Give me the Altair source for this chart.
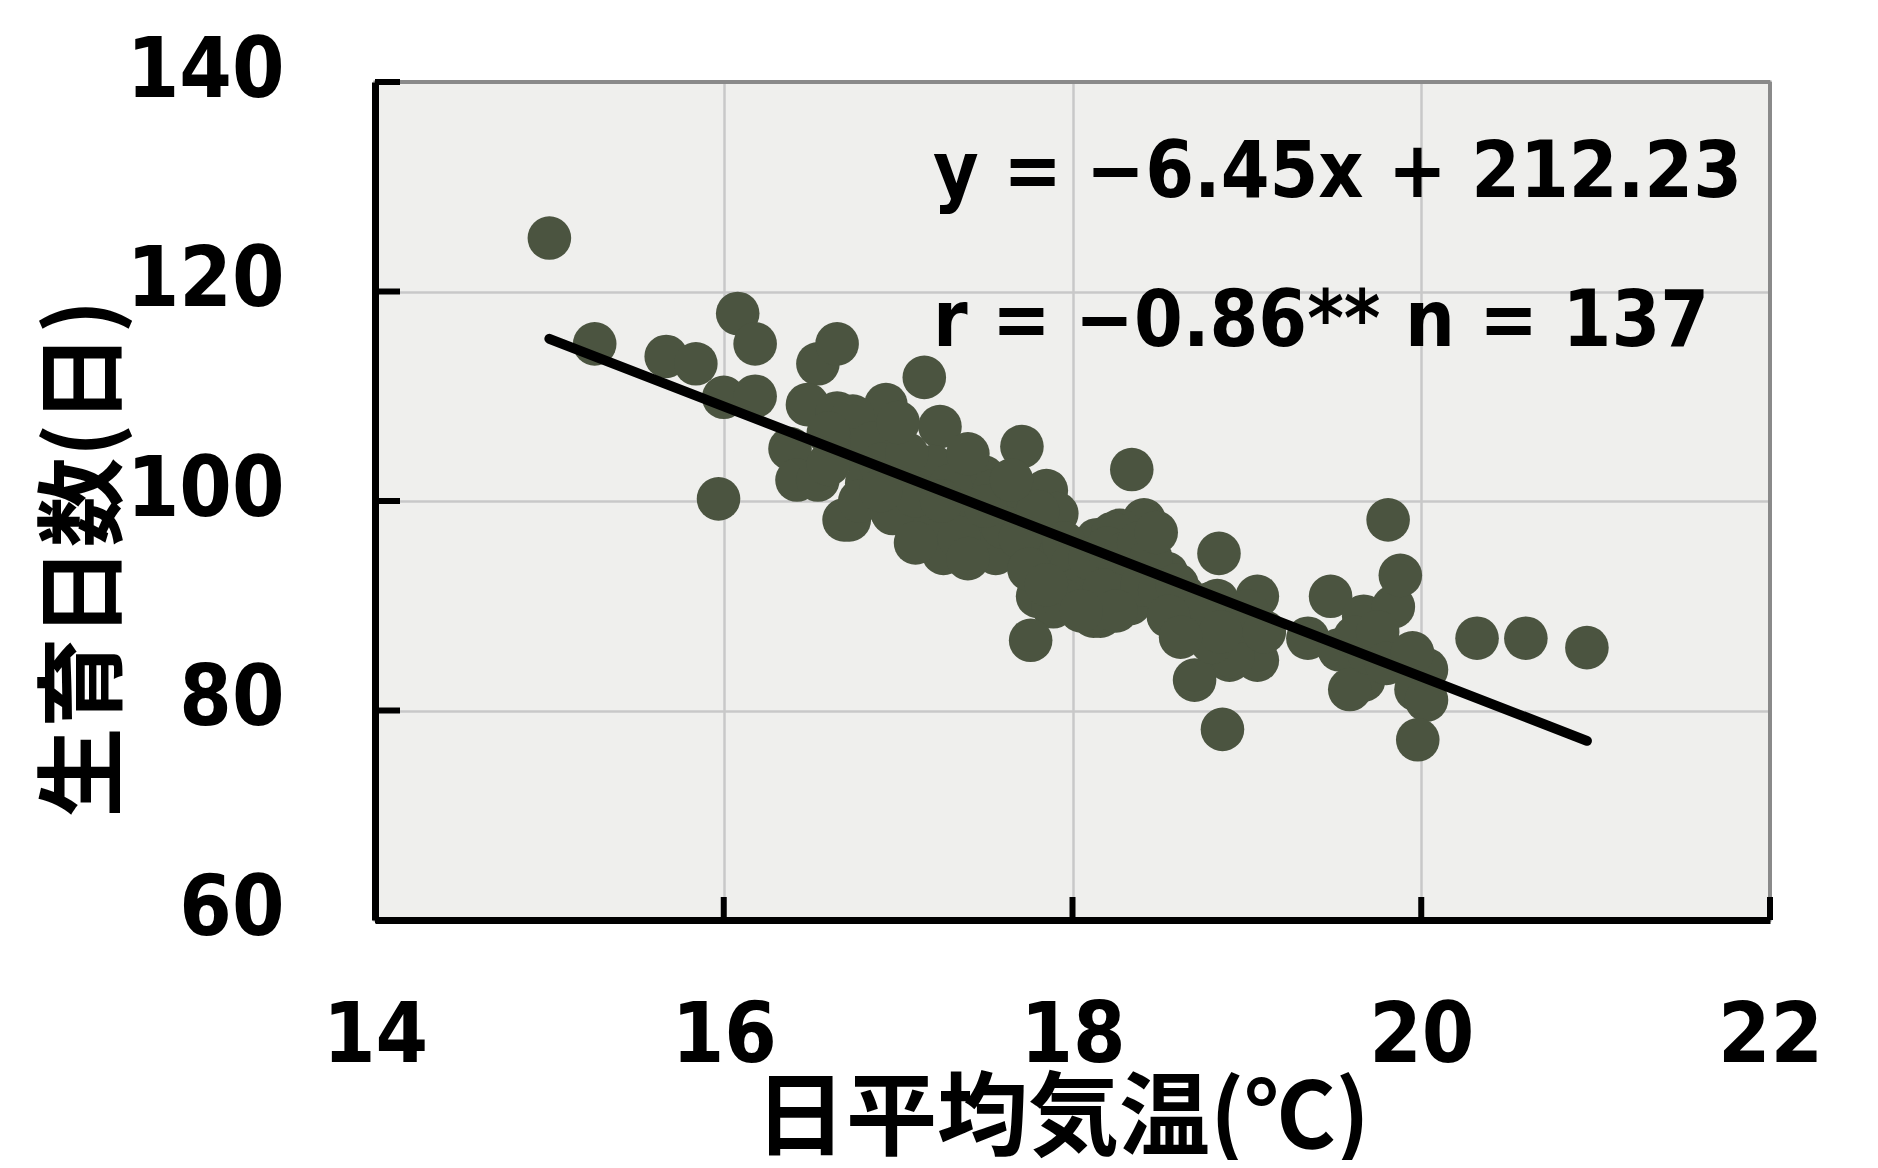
import altair as alt
import pandas as pd

# ---- data ----
temp = [
    15.00, 15.26, 15.67, 15.84, 16.08, 16.18, 16.00, 16.18, 15.97, 16.54,
    16.65, 16.48, 16.93, 17.15, 16.65, 16.74, 17.24, 16.38, 16.42, 16.54,
    16.69, 16.96, 17.20, 17.26, 16.97, 16.72, 17.01, 16.82, 17.20, 17.71,
    17.49, 17.85, 17.91, 18.34, 18.41, 18.27, 18.14, 17.18, 17.56, 17.45,
    17.64, 17.87, 17.80, 17.89, 17.76, 18.12, 18.33, 18.06, 18.25, 18.54,
    18.64, 18.71, 18.84, 18.83, 19.06, 18.98, 19.06, 18.90, 18.70, 18.86,
    19.35, 19.48, 19.67, 19.84, 19.88, 19.81, 19.53, 19.67, 19.59, 19.93,
    20.03, 19.97, 20.03, 19.98, 20.32, 20.60, 20.95, 18.23, 18.16, 18.79,
    18.69, 18.92, 16.72, 16.97, 16.60, 16.85, 16.90, 17.05, 17.10, 17.30,
    17.35, 17.40, 16.78, 17.00, 17.55, 17.60, 17.70, 17.75, 17.80, 17.95,
    18.00, 18.02, 18.10, 18.20, 18.18, 18.30, 18.38, 18.45, 18.40, 18.50,
    18.60, 18.25, 17.95, 17.85, 18.05, 18.75, 18.95, 19.00, 18.80, 18.85,
    19.10, 19.62, 19.70, 19.75, 19.80, 17.35, 17.50, 17.65, 17.10, 16.90,
    16.60, 18.48, 18.55, 17.25, 17.40, 18.62, 19.95,
]
days = [
    125.1, 115.0, 113.8, 113.1, 117.9, 115.0, 109.9, 110.0, 100.2, 113.1,
    115.0, 109.2, 109.2, 111.8, 108.4, 108.1, 107.1, 105.0, 102.0, 102.0,
    98.2, 99.1, 98.2, 95.0, 106.1, 104.9, 101.7, 101.7, 103.3, 105.2,
    102.3, 101.0, 98.8, 103.0, 98.2, 97.2, 96.3, 97.9, 95.0, 97.2,
    99.4, 95.0, 90.9, 89.9, 86.7, 89.0, 90.2, 92.5, 93.7, 93.1,
    90.9, 88.0, 95.0, 90.5, 90.9, 87.4, 84.8, 84.8, 82.9, 78.2,
    86.9, 90.9, 89.0, 89.9, 92.9, 98.2, 85.8, 82.9, 82.0, 84.2,
    83.9, 82.0, 81.0, 77.2, 86.9, 86.9, 86.0, 96.9, 89.0, 90.2,
    88.0, 85.1, 98.2, 98.8, 106.5, 105.5, 103.5, 104.5, 100.5, 101.5,
    99.0, 104.5, 100.0, 107.5, 101.0, 97.5, 96.5, 93.5, 99.0, 96.0,
    94.0, 91.5, 94.5, 95.5, 91.5, 95.0, 96.0, 94.5, 92.0, 91.5,
    92.0, 89.5, 90.5, 92.0, 89.5, 89.5, 88.5, 89.5, 86.5, 87.5,
    87.5, 87.0, 85.5, 87.5, 84.5, 96.5, 99.5, 102.0, 96.0, 101.0,
    103.5, 97.0, 89.0, 100.0, 94.5, 87.0, 85.5,
]
x_ticks = [14, 16, 18, 20, 22]
y_ticks = [60, 80, 100, 120, 140]
slope = -6.45
intercept = 212.23
line_x = [15.0, 20.95]
eq_text = "y = −6.45x + 212.23"
r_text = "r = −0.86** n = 137"
x_title = "日平均気温(℃)"
y_title = "生育日数(日)"

W, H = 1395, 838
NUM_FONT = "'DejaVu Sans Condensed', 'DejaVu Sans'"
CJK_FONT = "Noto Sans CJK JP"
PT_COLOR = "#4B5440"
FRAME = "#8A8A8A"

xs = alt.Scale(domain=[14, 22], nice=False, zero=False)
ys = alt.Scale(domain=[60, 140], nice=False, zero=False)

pts_df = pd.DataFrame({"temp": temp, "days": days})
line_df = pd.DataFrame({"temp": line_x, "days": [slope * v + intercept for v in line_x]})
xt_df = pd.DataFrame({"temp": x_ticks})
yt_df = pd.DataFrame({"days": y_ticks})
txt_df = pd.DataFrame({"temp": [17.2, 17.2], "days": [131.2, 117.0], "t": [eq_text, r_text]})

x_axis = alt.Axis(
    values=x_ticks, format="d", title=x_title, grid=True, gridColor="#C8C8C8", gridWidth=2.5,
    ticks=False, labelFont=NUM_FONT, labelFontSize=84, labelFontWeight="bold",
    labelColor="black", labelPadding=75, labelFlush=False, labelOverlap=False,
    domainColor="black", domainWidth=7,
    titleFont=CJK_FONT, titleFontSize=91, titleFontWeight="bold", titleColor="black",
    titleX=687, titleY=200, titleBaseline="middle", titleAlign="center",
)
y_axis = alt.Axis(
    values=y_ticks, format="d", title=y_title, grid=True, gridColor="#C8C8C8", gridWidth=2.5,
    ticks=False, labelFont=NUM_FONT, labelFontSize=84, labelFontWeight="bold",
    labelColor="black", labelPadding=91, labelOffset=-11, labelFlush=False,
    labelOverlap=False, domainColor="black", domainWidth=7,
    titleFont=CJK_FONT, titleFontSize=90, titleFontWeight="bold", titleColor="black",
    titleX=-289, titleY=476, titleBaseline="middle", titleAlign="center", titleAngle=270,
)

points = alt.Chart(pts_df).mark_circle(size=1900, color=PT_COLOR, opacity=1).encode(
    x=alt.X("temp:Q", scale=xs, axis=x_axis),
    y=alt.Y("days:Q", scale=ys, axis=y_axis),
)
reg = alt.Chart(line_df).mark_line(color="black", strokeWidth=10, strokeCap="round").encode(
    x=alt.X("temp:Q", scale=xs),
    y=alt.Y("days:Q", scale=ys),
)
top_border = alt.Chart(pts_df).mark_rule(color=FRAME, strokeWidth=3).encode(
    x=alt.value(0), x2=alt.value(W), y=alt.value(0)
)
right_border = alt.Chart(pts_df).mark_rule(color=FRAME, strokeWidth=3).encode(
    x=alt.value(W), y=alt.value(0), y2=alt.value(H)
)
ytick = alt.Chart(yt_df).mark_rule(color="black", strokeWidth=6).encode(
    y=alt.Y("days:Q", scale=ys),
    x=alt.value(0), x2=alt.value(25),
)
xtick = alt.Chart(xt_df).mark_rule(color="black", strokeWidth=6).encode(
    x=alt.X("temp:Q", scale=xs),
    y=alt.value(H), y2=alt.value(H - 23),
)
txt = alt.Chart(txt_df).mark_text(
    align="left", baseline="middle", font=NUM_FONT, fontSize=78, fontWeight="bold", color="black"
).encode(
    x=alt.X("temp:Q", scale=xs),
    y=alt.Y("days:Q", scale=ys),
    text="t:N",
)

chart = alt.layer(points, reg, top_border, right_border, ytick, xtick, txt).properties(
    width=W, height=H,
    autosize=alt.AutoSizeParams(type="none"),
    padding={"left": 367, "top": 74, "right": 100, "bottom": 240},
    background="white",
).configure_view(fill="#EFEFED", stroke=FRAME, strokeWidth=3)

chart.save("out.html", embed_options={"renderer": "svg", "actions": False})
